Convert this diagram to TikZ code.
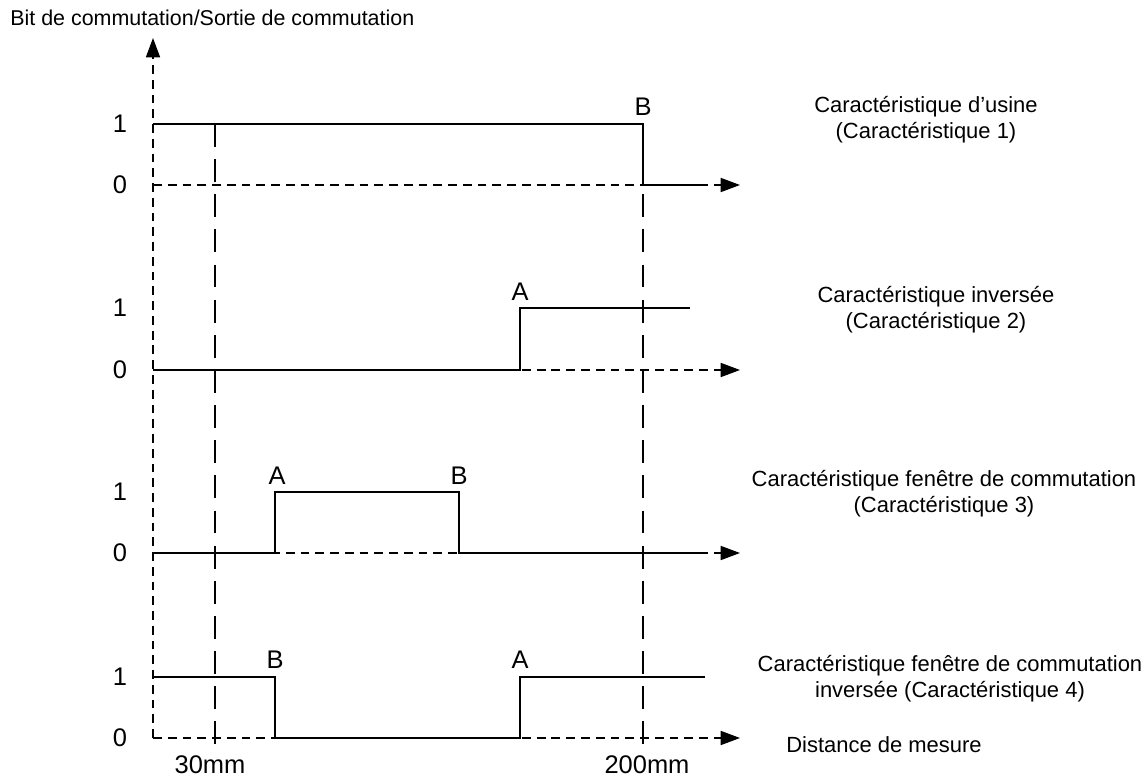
\documentclass[tikz,border=0pt]{standalone}
\usepackage{fontspec}
\setmainfont{Liberation Sans}
\usetikzlibrary{arrows.meta}
\tikzset{
    signal/.style={line width=1.4pt, line join=miter},
    axis/.style={line width=0.8pt, dash pattern=on 5pt off 3.4pt},
    ruler/.style={line width=0.8pt, dash pattern=on 13pt off 7pt},
    axis arrow/.style={-{Triangle[length=11pt,width=8pt]}},
    level/.style={font=\fontsize{14.5}{17}\selectfont}
}

\begin{document}
\begin{tikzpicture}[x=0.02cm, y=-0.02cm, font=\fontsize{12.5}{15}\selectfont]
    \useasboundingbox (0,0) rectangle (1144,777);

    \node[anchor=west, inner sep=0pt, font=\fontsize{12.2}{15}\selectfont] (TITLE) at (10,18) {Bit de commutation/Sortie de commutation};

    % axes
    \draw[axis, axis arrow] (153,738) -- (153,38);
    \draw[axis, axis arrow] (153,185) -- (740,185);
    \draw[axis, axis arrow] (153,370) -- (740,370);
    \draw[axis, axis arrow] (153,553) -- (740,553);
    \draw[axis, axis arrow] (153,738) -- (740,738);

    \draw[ruler] (215,124) -- (215,749);
    \draw[ruler] (643,124) -- (643,749);
    \node[level] (MIN) at (210,765) {30mm};
    \node[level] (MAX) at (647,765) {200mm};

    \node[level] (ONE1) at (120,124) {1}; \node[level] (ZERO1) at (120,185) {0};
    \node[level] (ONE2) at (120,308) {1}; \node[level] (ZERO2) at (120,370) {0};
    \node[level] (ONE3) at (120,492) {1}; \node[level] (ZERO3) at (120,553) {0};
    \node[level] (ONE4) at (120,677) {1}; \node[level] (ZERO4) at (120,738) {0};

    % switching curves
    \draw[signal] (153,124) -- (643,124) -- (643,185) -- (705,185);
    \draw[signal] (153,370) -- (520,370) -- (520,308) -- (690,308);
    \draw[signal] (153,553) -- (275,553) -- (275,492) -- (459,492) -- (459,553) -- (705,553);
    \draw[signal] (153,677) -- (275,677) -- (275,738) -- (520,738) -- (520,677) -- (705,677);

    \node[level] (B1) at (643,107) {B};
    \node[level] (A2) at (520,292) {A};
    \node[level] (A3) at (277,476) {A};
    \node[level] (B3) at (459,476) {B};
    \node[level] (B4) at (275,660) {B};
    \node[level] (A4) at (520,660) {A};

    \node[align=center] (CHAR1) at (926,120) {Caractéristique d’usine\\(Caractéristique 1)};
    \node[align=center] (CHAR2) at (936,310) {Caractéristique inversée\\(Caractéristique 2)};
    \node[align=center] (CHAR3) at (944,494) {Caractéristique fenêtre de commutation\\(Caractéristique 3)};
    \node[align=center] (CHAR4) at (950,679) {Caractéristique fenêtre de commutation\\inversée (Caractéristique 4)};
    \node (DIST) at (884,745) {Distance de mesure};
\end{tikzpicture}
\end{document}
